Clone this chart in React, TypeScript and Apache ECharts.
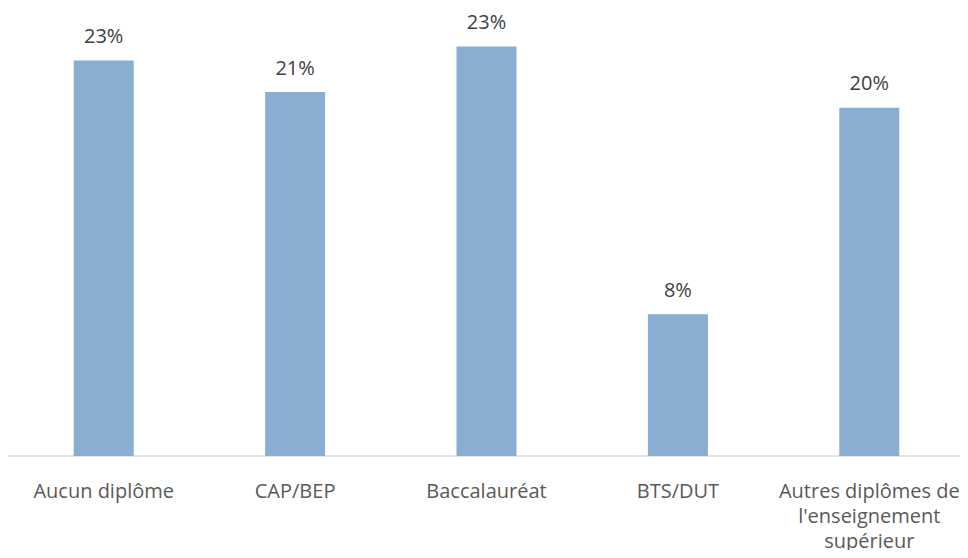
import React, { useEffect, useRef } from "react";
import * as echarts from "echarts";

const categories = [
  "Aucun diplôme",
  "CAP/BEP",
  "Baccalauréat",
  "BTS/DUT",
  "Autres diplômes de l'enseignement supérieur",
];
const values = [22.6, 20.8, 23.4, 8.1, 19.9];

export default function App() {
  const ref = useRef<HTMLDivElement>(null);
  useEffect(() => {
    const chart = echarts.init(ref.current!, null, { renderer: "svg" });
    chart.setOption({
      animation: false,
      grid: { left: 8, right: 0, top: 18.5, bottom: 102 },
      xAxis: {
        type: "category",
        data: categories,
        axisLine: { lineStyle: { color: "#d9d9d9", width: 1.5 } },
        axisTick: { show: false },
        axisLabel: {
          color: "#595959",
          fontFamily: "Open Sans",
          fontSize: 20,
          margin: 22,
          lineHeight: 25,
          width: 192,
          overflow: "break",
          interval: 0,
        },
      },
      yAxis: { type: "value", min: 0, max: 25, show: false },
      series: [
        {
          type: "bar",
          data: values,
          barWidth: 60,
          itemStyle: { color: "#8aadd2" },
          label: {
            show: true,
            position: "top",
            distance: 15,
            color: "#404040",
            fontFamily: "Open Sans",
            fontSize: 20,
            formatter: (p: any) => Math.round(p.value) + "%",
          },
        },
      ],
    });
    return () => chart.dispose();
  }, []);
  return <div ref={ref} style={{ width: 968, height: 558, margin: -8 }} />;
}
